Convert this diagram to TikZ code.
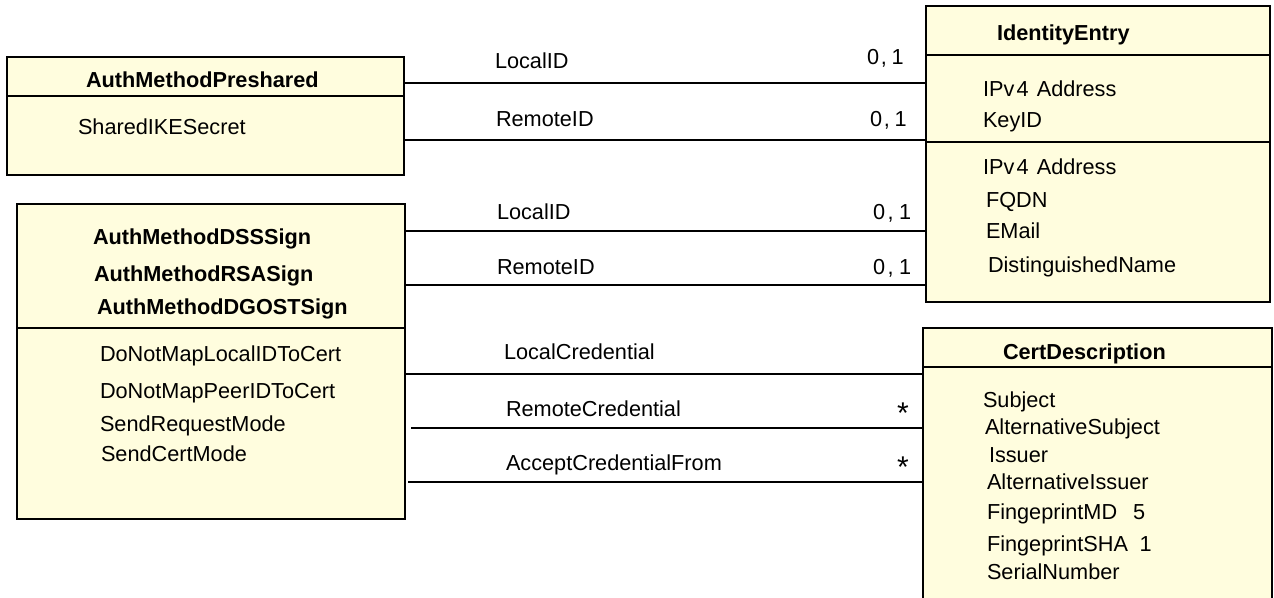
\documentclass[tikz,border=0pt]{standalone}
\usepackage{fontspec}
\setmainfont{Liberation Sans}
\definecolor{clsfill}{RGB}{255,253,222}
\newcommand\fsz{\fontsize{10.85}{13}\selectfont}
\tikzset{
  cls/.style={draw, line width=1.2pt, fill=clsfill, inner sep=0pt, outer sep=0pt, anchor=north west},
  divider/.style={line width=1.2pt},
  assoc/.style={line width=1pt},
  lbl/.style={inner sep=0pt, outer sep=0pt, anchor=west, text height=7.77pt, text depth=0pt, font=\fsz},
  ttl/.style={lbl, font=\fsz\bfseries},
  mult/.style={inner sep=0pt, outer sep=0pt, anchor=base, font=\fontsize{15}{16}\selectfont},
}
\begin{document}
\begin{tikzpicture}[x=0.5pt,y=-0.5pt]
\useasboundingbox (0,0) rectangle (1274,598);
\clip (0,0) rectangle (1274,598);
\fill[white] (0,0) rectangle (1274,598);

% class boxes
\node[cls, minimum width=198.5pt, minimum height=59pt] (pre) at (7,57) {};
\node[cls, minimum width=194pt, minimum height=157.5pt] (sign) at (17,204) {};
\node[cls, minimum width=172pt, minimum height=148pt] (ident) at (926,6) {};
\node[cls, minimum width=174.5pt, minimum height=145pt] (cert) at (923,328) {};

% divider levels
\coordinate (dpre) at (0,96);
\coordinate (dsign) at (0,328);
\coordinate (did1) at (0,55);
\coordinate (did2) at (0,142);
\coordinate (dcert) at (0,367);
\draw[divider] (pre.west |- dpre) -- (pre.east |- dpre);
\draw[divider] (sign.west |- dsign) -- (sign.east |- dsign);
\draw[divider] (ident.west |- did1) -- (ident.east |- did1);
\draw[divider] (ident.west |- did2) -- (ident.east |- did2);
\draw[divider] (cert.west |- dcert) -- (cert.east |- dcert);

% connector levels
\coordinate (c1) at (0,83);
\coordinate (c2) at (0,140);
\coordinate (c3) at (0,231);
\coordinate (c4) at (0,285);
\coordinate (c5) at (0,374);
\coordinate (c6) at (0,428);
\coordinate (c7) at (0,482);
\draw[assoc] (pre.east |- c1) -- (ident.west |- c1);
\draw[assoc] (pre.east |- c2) -- (ident.west |- c2);
\draw[assoc] (sign.east |- c3) -- (ident.west |- c3);
\draw[assoc] (sign.east |- c4) -- (ident.west |- c4);
\draw[assoc] (sign.east |- c5) -- (cert.west |- c5);
\draw[assoc, shorten <=3pt] (sign.east |- c6) -- (cert.west |- c6);
\draw[assoc, shorten <=1.5pt] (sign.east |- c7) -- (cert.west |- c7);

% AuthMethodPreshared
\node[ttl] (tpre) at (86,80) {AuthMethodPreshared};
\node[lbl] (apre) at (78,127) {SharedIKESecret};

% Sign classes
\node[ttl] (tdss) at (93,237) {AuthMethodDSSSign};
\node[ttl] (trsa) at (94,274) {AuthMethodRSASign};
\node[ttl] (tgost) at (97,307) {AuthMethodDGOSTSign};
\node[lbl] (s1) at (100,354) {DoNotMapLocalIDToCert};
\node[lbl] (s2) at (100,391) {DoNotMapPeerIDToCert};
\node[lbl] (s3) at (100,424) {SendRequestMode};
\node[lbl] (s4) at (101,454) {SendCertMode};

% IdentityEntry
\node[ttl] (tid) at (997,33) {IdentityEntry};
\node[lbl] (i1) at (983,89) {IPv\kern0.1em4\kern0.1em\ Address};
\node[lbl] (i2) at (983,120) {KeyID};
\node[lbl] (i3) at (983,167) {IPv\kern0.1em4\kern0.1em\ Address};
\node[lbl] (i4) at (986,200) {FQDN};
\node[lbl] (i5) at (986,231) {EMail};
\node[lbl] (i6) at (988,265) {DistinguishedName};

% CertDescription
\node[ttl] (tcert) at (1003,352) {CertDescription};
\node[lbl] (e1) at (983,400) {Subject};
\node[lbl] (e2) at (985,427) {AlternativeSubject};
\node[lbl] (e3) at (989,455) {Issuer};
\node[lbl] (e4) at (987,482) {AlternativeIssuer};
\node[lbl] (e5) at (987,512) {FingeprintMD\hspace{0.45em} 5};
\node[lbl] (e6) at (987,544) {FingeprintSHA\hspace{0.25em} 1};
\node[lbl] (e7) at (987,572) {SerialNumber};

% association labels
\node[lbl] (l1) at (495,61) {LocalID};
\node[lbl] (l2) at (496,119) {RemoteID};
\node[lbl] (l3) at (497,212) {LocalID};
\node[lbl] (l4) at (497,267) {RemoteID};
\node[lbl] (l5) at (504,352) {LocalCredential};
\node[lbl] (l6) at (506,409) {RemoteCredential};
\node[lbl] (l7) at (506,463) {AcceptCredentialFrom};

% multiplicities
\node[lbl] (m1) at (867,57) {0\kern.08em,\kern.22em1};
\node[lbl] (m2) at (870,119) {0\kern.08em,\kern.22em1};
\node[lbl] (m3) at (873,212) {0\kern.12em,\kern.25em1};
\node[lbl] (m4) at (873,267) {0\kern.12em,\kern.25em1};
\node[mult] (m5) at (903,423) {*};
\node[mult] (m6) at (903,477) {*};
\end{tikzpicture}
\end{document}
